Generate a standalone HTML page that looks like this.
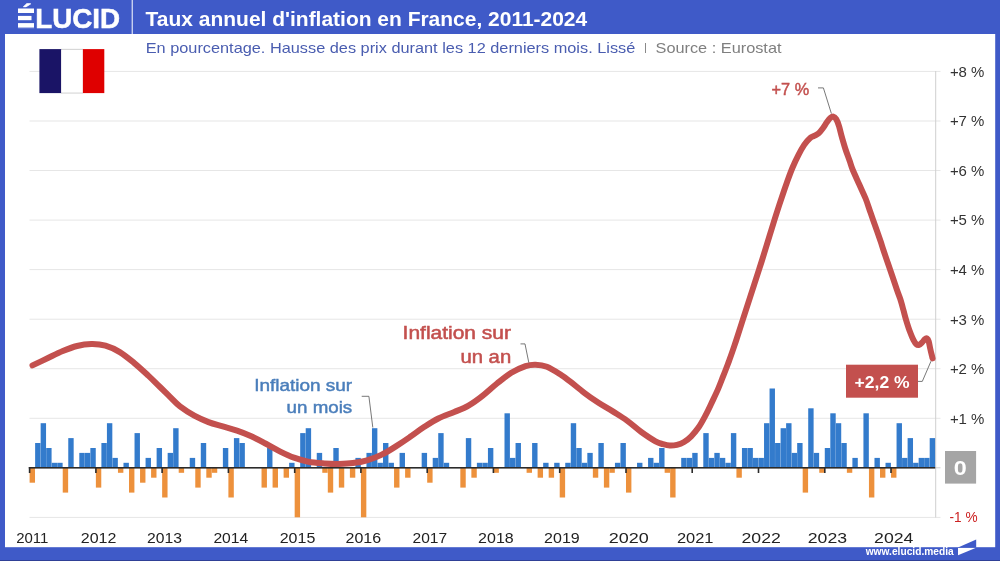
<!DOCTYPE html>
<html lang="fr"><head><meta charset="utf-8"><title>Taux annuel d'inflation en France, 2011-2024</title>
<style>html,body{margin:0;padding:0;background:#fff}body{width:1000px;height:561px;overflow:hidden}svg{display:block}text{font-family:"Liberation Sans",sans-serif}</style>
</head><body>
<svg width="1000" height="561" viewBox="0 0 1000 561">
<rect x="0" y="0" width="1000" height="561" fill="#3f5ac8"/>
<rect x="5" y="34" width="990.2" height="513.2" fill="#fff"/>
<rect x="0" y="560" width="1000" height="1" fill="#2f4096"/>
<rect x="131.7" y="0" width="1" height="34" fill="#fff"/>
<text x="16.6" y="27.6" font-size="27.8" font-weight="bold" fill="#fff" stroke="#fff" stroke-width="0.5" textLength="103.6" lengthAdjust="spacingAndGlyphs">ÉLUCID</text>
<rect x="15" y="7.6" width="21" height="21" fill="#3f5ac8"/>
<rect x="18" y="8.5" width="16" height="4.5" fill="#fff"/>
<rect x="18" y="15.9" width="13.5" height="4.3" fill="#fff"/>
<rect x="18" y="23.1" width="16" height="4.5" fill="#fff"/>
<text x="145.6" y="26.3" font-size="19.9" font-weight="bold" fill="#fff" textLength="441.6" lengthAdjust="spacingAndGlyphs">Taux annuel d'inflation en France, 2011-2024</text>
<text x="145.7" y="53.3" font-size="14.8" fill="#4a5db0" textLength="489.6" lengthAdjust="spacingAndGlyphs">En pourcentage. Hausse des prix durant les 12 derniers mois. Lissé</text>
<text x="644" y="50.5" font-size="11.5" fill="#808080">|</text>
<text x="655.5" y="53.3" font-size="14.8" fill="#7f7f7f" textLength="126" lengthAdjust="spacingAndGlyphs">Source : Eurostat</text>
<rect x="29.5" y="516.9" width="911" height="1" fill="#e6e6e6"/>
<rect x="29.5" y="417.8" width="911" height="1" fill="#e6e6e6"/>
<rect x="29.5" y="368.2" width="911" height="1" fill="#e6e6e6"/>
<rect x="29.5" y="318.7" width="911" height="1" fill="#e6e6e6"/>
<rect x="29.5" y="269.1" width="911" height="1" fill="#e6e6e6"/>
<rect x="29.5" y="219.6" width="911" height="1" fill="#e6e6e6"/>
<rect x="29.5" y="170.0" width="911" height="1" fill="#e6e6e6"/>
<rect x="29.5" y="120.5" width="911" height="1" fill="#e6e6e6"/>
<rect x="29.5" y="70.9" width="911" height="1" fill="#e6e6e6"/>
<rect x="61" y="48.9" width="22" height="44.5" fill="#bdbdbd"/>
<rect x="39.4" y="49.1" width="21.8" height="44" fill="#1a1466"/>
<rect x="61.2" y="49.6" width="21.7" height="43.1" fill="#fff"/>
<rect x="82.9" y="49.1" width="21.4" height="44" fill="#df0000"/>
<rect x="935.2" y="71" width="1" height="446.5" fill="#cfcfcf"/>
<rect x="935.2" y="467.3" width="5.3" height="1" fill="#cfcfcf"/>
<rect x="29.61" y="467.8" width="5.40" height="14.9" fill="#ed913c"/>
<rect x="35.13" y="443.0" width="5.40" height="24.8" fill="#337bcc"/>
<rect x="40.65" y="423.2" width="5.40" height="44.6" fill="#337bcc"/>
<rect x="46.18" y="448.0" width="5.40" height="19.8" fill="#337bcc"/>
<rect x="51.70" y="462.8" width="5.40" height="5.0" fill="#337bcc"/>
<rect x="57.22" y="462.8" width="5.40" height="5.0" fill="#337bcc"/>
<rect x="62.74" y="467.8" width="5.40" height="24.8" fill="#ed913c"/>
<rect x="68.26" y="438.1" width="5.40" height="29.7" fill="#337bcc"/>
<rect x="79.31" y="452.9" width="5.40" height="14.9" fill="#337bcc"/>
<rect x="84.83" y="452.9" width="5.40" height="14.9" fill="#337bcc"/>
<rect x="90.35" y="448.0" width="5.40" height="19.8" fill="#337bcc"/>
<rect x="95.87" y="467.8" width="5.40" height="19.8" fill="#ed913c"/>
<rect x="101.40" y="443.0" width="5.40" height="24.8" fill="#337bcc"/>
<rect x="106.92" y="423.2" width="5.40" height="44.6" fill="#337bcc"/>
<rect x="112.44" y="457.9" width="5.40" height="9.9" fill="#337bcc"/>
<rect x="117.96" y="467.8" width="5.40" height="5.0" fill="#ed913c"/>
<rect x="123.48" y="462.8" width="5.40" height="5.0" fill="#337bcc"/>
<rect x="129.01" y="467.8" width="5.40" height="24.8" fill="#ed913c"/>
<rect x="134.53" y="433.1" width="5.40" height="34.7" fill="#337bcc"/>
<rect x="140.05" y="467.8" width="5.40" height="14.9" fill="#ed913c"/>
<rect x="145.57" y="457.9" width="5.40" height="9.9" fill="#337bcc"/>
<rect x="151.09" y="467.8" width="5.40" height="9.9" fill="#ed913c"/>
<rect x="156.62" y="448.0" width="5.40" height="19.8" fill="#337bcc"/>
<rect x="162.14" y="467.8" width="5.40" height="29.7" fill="#ed913c"/>
<rect x="167.66" y="452.9" width="5.40" height="14.9" fill="#337bcc"/>
<rect x="173.18" y="428.2" width="5.40" height="39.6" fill="#337bcc"/>
<rect x="178.70" y="467.8" width="5.40" height="5.0" fill="#ed913c"/>
<rect x="189.75" y="457.9" width="5.40" height="9.9" fill="#337bcc"/>
<rect x="195.27" y="467.8" width="5.40" height="19.8" fill="#ed913c"/>
<rect x="200.79" y="443.0" width="5.40" height="24.8" fill="#337bcc"/>
<rect x="206.31" y="467.8" width="5.40" height="9.9" fill="#ed913c"/>
<rect x="211.84" y="467.8" width="5.40" height="5.0" fill="#ed913c"/>
<rect x="222.88" y="448.0" width="5.40" height="19.8" fill="#337bcc"/>
<rect x="228.40" y="467.8" width="5.40" height="29.7" fill="#ed913c"/>
<rect x="233.92" y="438.1" width="5.40" height="29.7" fill="#337bcc"/>
<rect x="239.45" y="443.0" width="5.40" height="24.8" fill="#337bcc"/>
<rect x="261.53" y="467.8" width="5.40" height="19.8" fill="#ed913c"/>
<rect x="267.06" y="448.0" width="5.40" height="19.8" fill="#337bcc"/>
<rect x="272.58" y="467.8" width="5.40" height="19.8" fill="#ed913c"/>
<rect x="283.62" y="467.8" width="5.40" height="9.9" fill="#ed913c"/>
<rect x="289.14" y="462.8" width="5.40" height="5.0" fill="#337bcc"/>
<rect x="294.67" y="467.8" width="5.40" height="49.5" fill="#ed913c"/>
<rect x="300.19" y="433.1" width="5.40" height="34.7" fill="#337bcc"/>
<rect x="305.71" y="428.2" width="5.40" height="39.6" fill="#337bcc"/>
<rect x="316.75" y="452.9" width="5.40" height="14.9" fill="#337bcc"/>
<rect x="322.28" y="467.8" width="5.40" height="5.0" fill="#ed913c"/>
<rect x="327.80" y="467.8" width="5.40" height="24.8" fill="#ed913c"/>
<rect x="333.32" y="448.0" width="5.40" height="19.8" fill="#337bcc"/>
<rect x="338.84" y="467.8" width="5.40" height="19.8" fill="#ed913c"/>
<rect x="349.89" y="467.8" width="5.40" height="9.9" fill="#ed913c"/>
<rect x="355.41" y="457.9" width="5.40" height="9.9" fill="#337bcc"/>
<rect x="360.93" y="467.8" width="5.40" height="49.5" fill="#ed913c"/>
<rect x="366.45" y="452.9" width="5.40" height="14.9" fill="#337bcc"/>
<rect x="371.97" y="428.2" width="5.40" height="39.6" fill="#337bcc"/>
<rect x="377.50" y="462.8" width="5.40" height="5.0" fill="#337bcc"/>
<rect x="383.02" y="443.0" width="5.40" height="24.8" fill="#337bcc"/>
<rect x="388.54" y="462.8" width="5.40" height="5.0" fill="#337bcc"/>
<rect x="394.06" y="467.8" width="5.40" height="19.8" fill="#ed913c"/>
<rect x="399.58" y="452.9" width="5.40" height="14.9" fill="#337bcc"/>
<rect x="405.11" y="467.8" width="5.40" height="9.9" fill="#ed913c"/>
<rect x="421.67" y="452.9" width="5.40" height="14.9" fill="#337bcc"/>
<rect x="427.19" y="467.8" width="5.40" height="14.9" fill="#ed913c"/>
<rect x="432.72" y="457.9" width="5.40" height="9.9" fill="#337bcc"/>
<rect x="438.24" y="433.1" width="5.40" height="34.7" fill="#337bcc"/>
<rect x="443.76" y="462.8" width="5.40" height="5.0" fill="#337bcc"/>
<rect x="460.33" y="467.8" width="5.40" height="19.8" fill="#ed913c"/>
<rect x="465.85" y="438.1" width="5.40" height="29.7" fill="#337bcc"/>
<rect x="471.37" y="467.8" width="5.40" height="9.9" fill="#ed913c"/>
<rect x="476.89" y="462.8" width="5.40" height="5.0" fill="#337bcc"/>
<rect x="482.41" y="462.8" width="5.40" height="5.0" fill="#337bcc"/>
<rect x="487.94" y="448.0" width="5.40" height="19.8" fill="#337bcc"/>
<rect x="493.46" y="467.8" width="5.40" height="5.0" fill="#ed913c"/>
<rect x="504.50" y="413.3" width="5.40" height="54.5" fill="#337bcc"/>
<rect x="510.02" y="457.9" width="5.40" height="9.9" fill="#337bcc"/>
<rect x="515.55" y="443.0" width="5.40" height="24.8" fill="#337bcc"/>
<rect x="526.59" y="467.8" width="5.40" height="5.0" fill="#ed913c"/>
<rect x="532.11" y="443.0" width="5.40" height="24.8" fill="#337bcc"/>
<rect x="537.63" y="467.8" width="5.40" height="9.9" fill="#ed913c"/>
<rect x="543.16" y="462.8" width="5.40" height="5.0" fill="#337bcc"/>
<rect x="548.68" y="467.8" width="5.40" height="9.9" fill="#ed913c"/>
<rect x="554.20" y="462.8" width="5.40" height="5.0" fill="#337bcc"/>
<rect x="559.72" y="467.8" width="5.40" height="29.7" fill="#ed913c"/>
<rect x="565.24" y="462.8" width="5.40" height="5.0" fill="#337bcc"/>
<rect x="570.77" y="423.2" width="5.40" height="44.6" fill="#337bcc"/>
<rect x="576.29" y="448.0" width="5.40" height="19.8" fill="#337bcc"/>
<rect x="581.81" y="462.8" width="5.40" height="5.0" fill="#337bcc"/>
<rect x="587.33" y="452.9" width="5.40" height="14.9" fill="#337bcc"/>
<rect x="592.85" y="467.8" width="5.40" height="9.9" fill="#ed913c"/>
<rect x="598.38" y="443.0" width="5.40" height="24.8" fill="#337bcc"/>
<rect x="603.90" y="467.8" width="5.40" height="19.8" fill="#ed913c"/>
<rect x="609.42" y="467.8" width="5.40" height="5.0" fill="#ed913c"/>
<rect x="614.94" y="462.8" width="5.40" height="5.0" fill="#337bcc"/>
<rect x="620.46" y="443.0" width="5.40" height="24.8" fill="#337bcc"/>
<rect x="625.99" y="467.8" width="5.40" height="24.8" fill="#ed913c"/>
<rect x="637.03" y="462.8" width="5.40" height="5.0" fill="#337bcc"/>
<rect x="648.07" y="457.9" width="5.40" height="9.9" fill="#337bcc"/>
<rect x="653.60" y="462.8" width="5.40" height="5.0" fill="#337bcc"/>
<rect x="659.12" y="448.0" width="5.40" height="19.8" fill="#337bcc"/>
<rect x="664.64" y="467.8" width="5.40" height="5.0" fill="#ed913c"/>
<rect x="670.16" y="467.8" width="5.40" height="29.7" fill="#ed913c"/>
<rect x="681.21" y="457.9" width="5.40" height="9.9" fill="#337bcc"/>
<rect x="686.73" y="457.9" width="5.40" height="9.9" fill="#337bcc"/>
<rect x="692.25" y="452.9" width="5.40" height="14.9" fill="#337bcc"/>
<rect x="703.29" y="433.1" width="5.40" height="34.7" fill="#337bcc"/>
<rect x="708.82" y="457.9" width="5.40" height="9.9" fill="#337bcc"/>
<rect x="714.34" y="452.9" width="5.40" height="14.9" fill="#337bcc"/>
<rect x="719.86" y="457.9" width="5.40" height="9.9" fill="#337bcc"/>
<rect x="725.38" y="462.8" width="5.40" height="5.0" fill="#337bcc"/>
<rect x="730.90" y="433.1" width="5.40" height="34.7" fill="#337bcc"/>
<rect x="736.43" y="467.8" width="5.40" height="9.9" fill="#ed913c"/>
<rect x="741.95" y="448.0" width="5.40" height="19.8" fill="#337bcc"/>
<rect x="747.47" y="448.0" width="5.40" height="19.8" fill="#337bcc"/>
<rect x="752.99" y="457.9" width="5.40" height="9.9" fill="#337bcc"/>
<rect x="758.51" y="457.9" width="5.40" height="9.9" fill="#337bcc"/>
<rect x="764.04" y="423.2" width="5.40" height="44.6" fill="#337bcc"/>
<rect x="769.56" y="388.5" width="5.40" height="79.3" fill="#337bcc"/>
<rect x="775.08" y="443.0" width="5.40" height="24.8" fill="#337bcc"/>
<rect x="780.60" y="428.2" width="5.40" height="39.6" fill="#337bcc"/>
<rect x="786.12" y="423.2" width="5.40" height="44.6" fill="#337bcc"/>
<rect x="791.65" y="452.9" width="5.40" height="14.9" fill="#337bcc"/>
<rect x="797.17" y="443.0" width="5.40" height="24.8" fill="#337bcc"/>
<rect x="802.69" y="467.8" width="5.40" height="24.8" fill="#ed913c"/>
<rect x="808.21" y="408.3" width="5.40" height="59.5" fill="#337bcc"/>
<rect x="813.73" y="452.9" width="5.40" height="14.9" fill="#337bcc"/>
<rect x="819.26" y="467.8" width="5.40" height="5.0" fill="#ed913c"/>
<rect x="824.78" y="448.0" width="5.40" height="19.8" fill="#337bcc"/>
<rect x="830.30" y="413.3" width="5.40" height="54.5" fill="#337bcc"/>
<rect x="835.82" y="423.2" width="5.40" height="44.6" fill="#337bcc"/>
<rect x="841.34" y="443.0" width="5.40" height="24.8" fill="#337bcc"/>
<rect x="846.87" y="467.8" width="5.40" height="5.0" fill="#ed913c"/>
<rect x="852.39" y="457.9" width="5.40" height="9.9" fill="#337bcc"/>
<rect x="863.43" y="413.3" width="5.40" height="54.5" fill="#337bcc"/>
<rect x="868.95" y="467.8" width="5.40" height="29.7" fill="#ed913c"/>
<rect x="874.48" y="457.9" width="5.40" height="9.9" fill="#337bcc"/>
<rect x="880.00" y="467.8" width="5.40" height="9.9" fill="#ed913c"/>
<rect x="885.52" y="462.8" width="5.40" height="5.0" fill="#337bcc"/>
<rect x="891.04" y="467.8" width="5.40" height="9.9" fill="#ed913c"/>
<rect x="896.56" y="423.2" width="5.40" height="44.6" fill="#337bcc"/>
<rect x="902.09" y="457.9" width="5.40" height="9.9" fill="#337bcc"/>
<rect x="907.61" y="438.1" width="5.40" height="29.7" fill="#337bcc"/>
<rect x="913.13" y="462.8" width="5.40" height="5.0" fill="#337bcc"/>
<rect x="918.65" y="457.9" width="5.40" height="9.9" fill="#337bcc"/>
<rect x="924.17" y="457.9" width="5.40" height="9.9" fill="#337bcc"/>
<rect x="929.70" y="438.1" width="5.40" height="29.7" fill="#337bcc"/>
<rect x="28.8" y="467" width="906.4" height="1.6" fill="#2b2b2b"/>
<rect x="28.8" y="467" width="1.6" height="6" fill="#2b2b2b"/>
<rect x="95.1" y="467" width="1.6" height="6" fill="#2b2b2b"/>
<rect x="161.3" y="467" width="1.6" height="6" fill="#2b2b2b"/>
<rect x="227.6" y="467" width="1.6" height="6" fill="#2b2b2b"/>
<rect x="293.9" y="467" width="1.6" height="6" fill="#2b2b2b"/>
<rect x="360.1" y="467" width="1.6" height="6" fill="#2b2b2b"/>
<rect x="426.4" y="467" width="1.6" height="6" fill="#2b2b2b"/>
<rect x="492.6" y="467" width="1.6" height="6" fill="#2b2b2b"/>
<rect x="558.9" y="467" width="1.6" height="6" fill="#2b2b2b"/>
<rect x="625.2" y="467" width="1.6" height="6" fill="#2b2b2b"/>
<rect x="691.4" y="467" width="1.6" height="6" fill="#2b2b2b"/>
<rect x="757.7" y="467" width="1.6" height="6" fill="#2b2b2b"/>
<rect x="824.0" y="467" width="1.6" height="6" fill="#2b2b2b"/>
<rect x="890.2" y="467" width="1.6" height="6" fill="#2b2b2b"/>
<text x="16.2" y="542.7" font-size="15.4" fill="#222" textLength="32.2" lengthAdjust="spacingAndGlyphs">2011</text>
<text x="80.8" y="542.7" font-size="15.4" fill="#222" textLength="35.6" lengthAdjust="spacingAndGlyphs">2012</text>
<text x="147.1" y="542.7" font-size="15.4" fill="#222" textLength="34.9" lengthAdjust="spacingAndGlyphs">2013</text>
<text x="213.4" y="542.7" font-size="15.4" fill="#222" textLength="34.9" lengthAdjust="spacingAndGlyphs">2014</text>
<text x="279.7" y="542.7" font-size="15.4" fill="#222" textLength="35.6" lengthAdjust="spacingAndGlyphs">2015</text>
<text x="345.5" y="542.7" font-size="15.4" fill="#222" textLength="35.6" lengthAdjust="spacingAndGlyphs">2016</text>
<text x="412.5" y="542.7" font-size="15.4" fill="#222" textLength="34.6" lengthAdjust="spacingAndGlyphs">2017</text>
<text x="478.1" y="542.7" font-size="15.4" fill="#222" textLength="35.6" lengthAdjust="spacingAndGlyphs">2018</text>
<text x="544.1" y="542.7" font-size="15.4" fill="#222" textLength="35.6" lengthAdjust="spacingAndGlyphs">2019</text>
<text x="608.7" y="542.7" font-size="15.4" fill="#222" textLength="40.0" lengthAdjust="spacingAndGlyphs">2020</text>
<text x="676.9" y="542.7" font-size="15.4" fill="#222" textLength="36.6" lengthAdjust="spacingAndGlyphs">2021</text>
<text x="741.5" y="542.7" font-size="15.4" fill="#222" textLength="39.3" lengthAdjust="spacingAndGlyphs">2022</text>
<text x="807.8" y="542.7" font-size="15.4" fill="#222" textLength="39.3" lengthAdjust="spacingAndGlyphs">2023</text>
<text x="874.1" y="542.7" font-size="15.4" fill="#222" textLength="39.3" lengthAdjust="spacingAndGlyphs">2024</text>
<text x="949.9" y="423.6" font-size="15" fill="#333" textLength="34.5" lengthAdjust="spacingAndGlyphs">+1 %</text>
<text x="949.9" y="374.0" font-size="15" fill="#333" textLength="34.5" lengthAdjust="spacingAndGlyphs">+2 %</text>
<text x="949.9" y="324.5" font-size="15" fill="#333" textLength="34.5" lengthAdjust="spacingAndGlyphs">+3 %</text>
<text x="949.9" y="274.9" font-size="15" fill="#333" textLength="34.5" lengthAdjust="spacingAndGlyphs">+4 %</text>
<text x="949.9" y="225.4" font-size="15" fill="#333" textLength="34.5" lengthAdjust="spacingAndGlyphs">+5 %</text>
<text x="949.9" y="175.8" font-size="15" fill="#333" textLength="34.5" lengthAdjust="spacingAndGlyphs">+6 %</text>
<text x="949.9" y="126.3" font-size="15" fill="#333" textLength="34.5" lengthAdjust="spacingAndGlyphs">+7 %</text>
<text x="949.9" y="76.7" font-size="15" fill="#333" textLength="34.5" lengthAdjust="spacingAndGlyphs">+8 %</text>
<text x="949.5" y="521.9" font-size="15" fill="#cc2222" textLength="28" lengthAdjust="spacingAndGlyphs">-1 %</text>
<rect x="945" y="451" width="31.1" height="32.6" fill="#a5a5a5"/>
<text x="953.8" y="475.2" font-size="20" font-weight="bold" fill="#fff" textLength="13" lengthAdjust="spacingAndGlyphs">0</text>
<path d="M32.5 365.4 C35.2 364.1 43.5 360.2 48.5 357.8 C53.5 355.4 58.0 353.1 62.8 351.1 C67.5 349.1 72.2 347.2 77.0 346.0 C81.8 344.8 86.5 344.1 91.3 344.0 C96.0 343.9 100.8 344.3 105.5 345.7 C110.2 347.1 115.0 349.2 119.8 352.1 C124.5 355.0 129.2 358.9 134.0 362.8 C138.8 366.7 144.0 371.6 148.3 375.6 C152.6 379.6 156.4 383.5 160.0 387.0 C163.6 390.5 166.7 393.6 170.0 396.8 C173.3 400.0 175.9 403.2 180.0 406.4 C184.1 409.5 189.6 413.1 194.3 415.7 C199.1 418.3 203.8 420.3 208.5 422.1 C213.2 423.9 218.1 425.0 222.8 426.4 C227.6 427.8 232.2 429.0 237.0 430.6 C241.8 432.2 246.6 434.2 251.3 436.3 C256.1 438.4 260.8 441.0 265.5 443.5 C270.2 446.0 275.1 448.9 279.8 451.3 C284.6 453.7 289.2 456.0 294.0 457.7 C298.8 459.4 303.2 460.8 308.3 461.7 C313.4 462.6 319.3 463.0 324.3 463.4 C329.3 463.8 333.8 463.9 338.5 463.9 C343.2 463.8 348.1 463.7 352.8 463.1 C357.6 462.5 362.2 461.7 367.0 460.3 C371.8 458.9 376.6 457.2 381.3 454.9 C386.1 452.6 390.8 449.6 395.5 446.6 C400.2 443.6 405.1 440.4 409.8 437.1 C414.6 433.9 419.2 430.2 424.0 427.1 C428.8 424.0 433.2 421.0 438.3 418.5 C443.4 416.0 449.3 414.1 454.3 412.0 C459.3 409.9 463.8 408.3 468.5 405.6 C473.2 402.9 478.1 399.3 482.8 395.6 C487.6 391.9 492.2 387.3 497.0 383.5 C501.8 379.7 506.6 375.7 511.3 372.8 C516.0 369.9 521.5 367.5 525.5 366.1 C529.5 364.8 531.9 364.6 535.5 364.7 C539.1 364.8 542.6 365.1 546.9 366.8 C551.2 368.5 557.4 372.6 561.2 375.0 C565.1 377.4 566.1 378.4 570.0 381.4 C573.9 384.4 579.5 389.2 584.3 392.8 C589.0 396.4 593.8 399.7 598.5 402.8 C603.2 405.9 608.0 408.4 612.8 411.4 C617.5 414.4 622.2 417.2 627.0 420.6 C631.8 424.0 636.5 428.6 641.3 432.0 C646.0 435.4 651.9 439.3 655.5 441.3 C659.1 443.3 660.3 443.4 662.7 444.1 C665.1 444.8 667.4 445.5 669.8 445.6 C672.2 445.7 674.5 445.5 676.9 444.9 C679.3 444.3 681.7 443.4 684.1 442.0 C686.5 440.6 688.8 438.7 691.2 436.3 C693.6 433.9 695.9 431.2 698.3 427.8 C700.7 424.4 703.3 419.5 705.4 415.6 C707.5 411.7 709.0 408.5 711.0 404.2 C713.0 399.9 715.6 394.7 717.7 389.9 C719.8 385.1 721.5 380.4 723.4 375.6 C725.3 370.9 727.1 366.1 728.9 361.4 C730.6 356.6 732.7 350.7 733.9 347.1 C735.1 343.5 734.8 344.6 736.3 340.0 C737.8 335.4 740.6 326.6 743.0 319.2 C745.4 311.8 747.9 303.9 750.6 295.6 C753.3 287.3 757.2 275.2 759.1 269.3 C761.0 263.4 760.3 265.8 762.1 260.0 C763.9 254.2 767.4 242.8 769.9 234.7 C772.4 226.6 774.7 219.0 777.1 211.6 C779.5 204.2 782.4 195.5 784.2 190.2 C786.0 184.9 786.4 183.9 787.8 180.0 C789.2 176.1 791.0 171.2 792.8 167.0 C794.6 162.8 796.6 158.6 798.5 154.9 C800.4 151.2 802.3 147.7 804.2 144.9 C806.1 142.1 808.2 139.7 809.9 138.2 C811.5 136.7 812.7 136.7 814.1 135.9 C815.5 135.1 817.0 134.7 818.4 133.5 C819.8 132.3 821.3 130.4 822.7 128.5 C824.1 126.6 825.7 123.9 827.0 122.1 C828.3 120.3 829.4 118.7 830.5 117.8 C831.6 116.9 832.4 116.4 833.4 116.6 C834.4 116.8 835.2 117.6 836.2 119.2 C837.2 120.8 838.2 123.4 839.1 126.4 C840.0 129.4 840.8 133.3 841.9 137.1 C843.0 140.9 844.2 145.2 845.5 149.2 C846.8 153.2 848.6 157.8 849.8 161.3 C851.0 164.8 851.2 166.2 852.8 170.0 C854.4 173.8 857.1 179.6 859.2 184.3 C861.3 189.1 863.7 193.8 865.6 198.5 C867.5 203.2 868.9 208.1 870.6 212.8 C872.3 217.6 873.9 222.2 875.6 227.0 C877.3 231.8 879.3 237.5 880.6 241.3 C881.9 245.1 881.8 245.1 883.4 250.0 C885.0 254.9 888.1 263.8 890.4 270.5 C892.7 277.2 895.4 285.3 897.0 290.0 C898.6 294.7 899.1 295.5 900.2 298.8 C901.3 302.1 902.4 306.4 903.4 310.0 C904.4 313.6 905.2 317.1 906.3 320.7 C907.4 324.2 908.6 328.1 909.8 331.3 C911.0 334.5 912.3 337.8 913.4 339.9 C914.5 342.0 915.3 343.4 916.3 344.2 C917.2 345.0 918.1 345.2 919.1 344.9 C920.1 344.6 921.0 343.4 922.0 342.5 C923.0 341.6 924.0 339.9 924.8 339.2 C925.6 338.5 926.4 338.1 927.0 338.5 C927.6 338.9 928.2 339.6 928.7 341.3 C929.2 343.0 929.7 346.1 930.2 348.5 C930.7 350.9 931.5 354.0 931.9 355.6 C932.3 357.2 932.5 357.9 932.6 358.4" fill="none" stroke="#c3504e" stroke-width="6" stroke-linecap="round" stroke-linejoin="round"/>
<g font-size="16.6" fill="#4a7ebb" stroke="#4a7ebb" stroke-width="0.45">
<text x="254.2" y="391.3" textLength="98" lengthAdjust="spacingAndGlyphs">Inflation sur</text>
<text x="286.6" y="412.5" textLength="65.6" lengthAdjust="spacingAndGlyphs">un mois</text>
</g>
<path d="M361.7 396.3H368.9L372.8 427.5" fill="none" stroke="#555" stroke-width="0.8"/>
<g font-size="17.6" fill="#c3504e" stroke="#c3504e" stroke-width="0.5">
<text x="402.6" y="339.3" textLength="108.4" lengthAdjust="spacingAndGlyphs">Inflation sur</text>
<text x="460.4" y="362.7" textLength="50.8" lengthAdjust="spacingAndGlyphs">un an</text>
</g>
<path d="M520.5 343.9H525L528.8 362.6" fill="none" stroke="#555" stroke-width="0.8"/>
<text x="771.6" y="94.6" font-size="16" fill="#c3504e" stroke="#c3504e" stroke-width="0.45" textLength="37.6" lengthAdjust="spacingAndGlyphs">+7 %</text>
<path d="M818 87.9H823.4L831.4 113.6" fill="none" stroke="#555" stroke-width="0.8"/>
<rect x="846" y="364.7" width="72" height="33" fill="#c3504e"/>
<text x="854.6" y="388.1" font-size="16.4" font-weight="bold" fill="#fff" textLength="55" lengthAdjust="spacingAndGlyphs">+2,2 %</text>
<path d="M918 381.4H922.3L931 361.2" fill="none" stroke="#555" stroke-width="0.8"/>
<text x="865.7" y="555" font-size="10" font-weight="bold" fill="#fff" textLength="88" lengthAdjust="spacingAndGlyphs">www.elucid.media</text>
<path d="M958 547.4L976.2 539.4V547.4Z" fill="#3f5ac8"/>
<path d="M958 547.9H975.5L958 555.2Z" fill="#fff"/>
</svg></body></html>
